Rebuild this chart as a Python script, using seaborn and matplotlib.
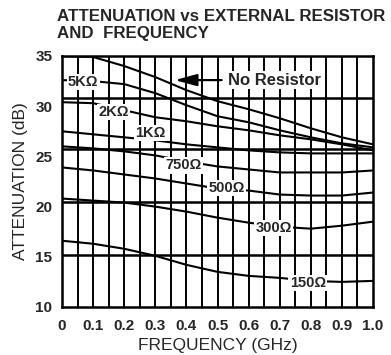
import numpy as np
import pandas as pd
import matplotlib
matplotlib.use('Agg')
import matplotlib.pyplot as plt
import seaborn as sns

# frequency (GHz) and attenuation (dB)
freq = [0.0, 0.1, 0.2, 0.3, 0.4, 0.5, 0.6, 0.7, 0.8, 0.9, 1.0]
att_none = [35.0, 34.9, 34.0, 32.9, 31.6, 30.5, 29.7, 28.8, 27.8, 26.9, 26.2]
att_5k   = [32.6, 32.5, 32.2, 31.3, 30.1, 29.0, 28.4, 27.6, 26.9, 26.3, 25.9]
att_2k   = [30.4, 30.3, 29.6, 28.9, 28.5, 28.0, 27.6, 27.1, 26.7, 26.2, 25.6]
att_1k   = [27.5, 27.2, 26.9, 26.6, 26.2, 25.9, 25.6, 25.4, 25.3, 25.3, 25.3]
att_750  = [26.0, 25.8, 25.5, 25.1, 24.5, 24.0, 23.7, 23.4, 23.4, 23.4, 23.6]
att_500  = [23.9, 23.6, 23.2, 22.8, 22.3, 21.8, 21.6, 21.2, 21.1, 21.1, 21.4]
att_300  = [20.8, 20.6, 20.4, 20.0, 19.5, 18.9, 18.4, 18.0, 17.8, 18.1, 18.5]
att_150  = [16.6, 16.3, 15.8, 15.1, 14.2, 13.5, 13.1, 12.9, 12.6, 12.5, 12.6]

curve_names = ['none', '5K', '2K', '1K', '750', '500', '300', '150']
curve_vals = [att_none, att_5k, att_2k, att_1k, att_750, att_500, att_300, att_150]

# label text and where it sits on the chart (GHz, dB)
labels = ['5KΩ', '2KΩ', '1KΩ', '750Ω', '500Ω', '300Ω', '150Ω']
label_x = [0.068, 0.165, 0.285, 0.39, 0.53, 0.68, 0.79]
label_y = [32.4, 29.4, 27.3, 24.1, 21.85, 17.9, 12.4]

# horizontal rules as they sit in the drawing
hlines = [30.8, 25.7, 20.5, 15.2]

df = pd.DataFrame({
    'freq': np.tile(freq, len(curve_names)),
    'att': np.concatenate(curve_vals),
    'curve': np.repeat(curve_names, len(freq)),
})

sns.set_style('white')
plt.rcParams['font.family'] = ['Liberation Sans', 'DejaVu Sans']

fig = plt.figure(figsize=(3.91, 3.55), dpi=100)
ax = fig.add_axes([62 / 391, 1 - 307 / 355, 311 / 391, 251 / 355])

sns.lineplot(data=df, x='freq', y='att', hue='curve',
             palette=['black'] * len(curve_names), legend=False,
             linewidth=1.5, ax=ax, zorder=3)

# grid
for gx in np.arange(0.05, 1.0, 0.05):
    ax.axvline(gx, color='black', lw=1.4, zorder=1)
for gy in hlines:
    ax.axhline(gy, color='black', lw=1.8, zorder=1)

for txt, x, y in zip(labels, label_x, label_y):
    ax.text(x, y, txt, ha='center', va='center', fontsize=10.5, fontweight='bold',
            zorder=5, bbox=dict(facecolor='white', edgecolor='none', pad=0.8))

ax.annotate('No Resistor', xy=(0.363, 32.6), xytext=(0.535, 32.6),
            ha='left', va='center', fontsize=12, fontweight='bold', zorder=5,
            bbox=dict(facecolor='white', edgecolor='none', pad=0.8),
            arrowprops=dict(arrowstyle='-|>,head_length=1.1,head_width=0.3',
                            color='black', lw=1.6, shrinkA=4, shrinkB=0))

ax.set_xlim(0, 1.0)
ax.set_ylim(10, 35)
ax.set_xticks(np.arange(0, 1.01, 0.1))
ax.set_xticklabels(['0', '0.1', '0.2', '0.3', '0.4', '0.5', '0.6', '0.7', '0.8', '0.9', '1.0'])
ax.set_yticks([10, 15, 20, 25, 30, 35])
ax.tick_params(length=0, labelsize=11, pad=7)
for t in ax.get_xticklabels() + ax.get_yticklabels():
    t.set_fontweight('bold')
ax.tick_params(axis='x', pad=9)

for s in ax.spines.values():
    s.set_color('black')
    s.set_linewidth(1.8)

ax.set_xlabel('FREQUENCY (GHz)', fontsize=12.5, labelpad=3)
ax.set_ylabel('ATTENUATION (dB)', fontsize=12.5, labelpad=5)

fig.text(57 / 391, 1 - 9 / 355, 'ATTENUATION vs EXTERNAL RESISTOR\nAND  FREQUENCY',
         ha='left', va='top', fontsize=12.2, fontweight='heavy', linespacing=1.15)

fig.savefig('out.png', dpi=100)
